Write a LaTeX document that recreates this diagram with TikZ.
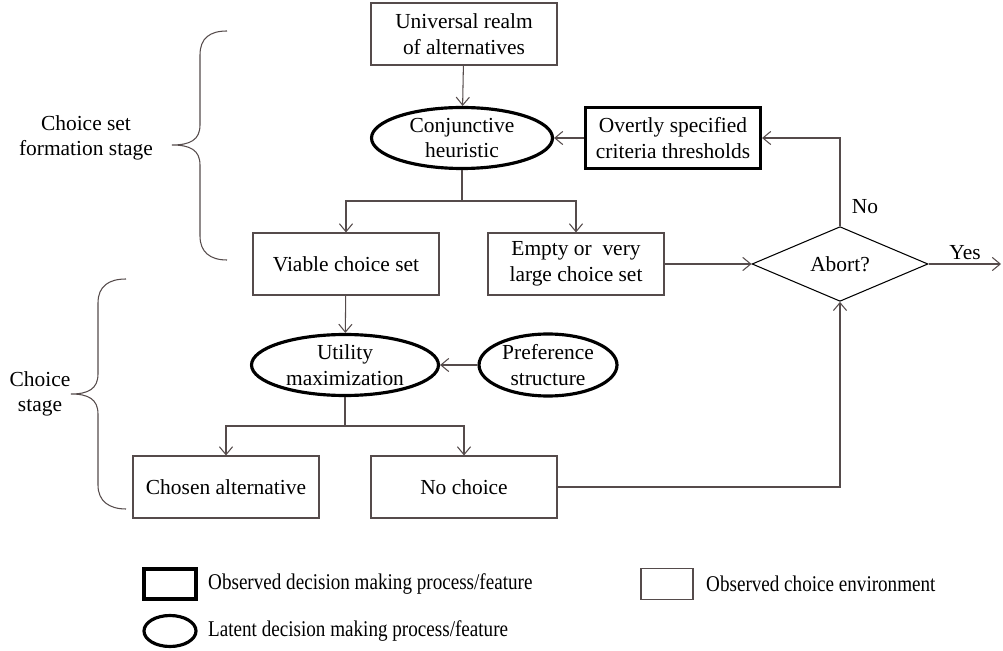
\documentclass[tikz,border=0pt]{standalone}
\usepackage{fontspec}
\setmainfont{Liberation Serif}
\newfontfamily\legendfont[FakeStretch=0.85]{Liberation Serif}
\usetikzlibrary{shapes.geometric,arrows.meta,positioning}
\definecolor{linegray}{RGB}{85,75,75}

\begin{document}
\begin{tikzpicture}[x=0.02cm,y=-0.02cm,
    font=\fontsize{12.2}{14.5}\selectfont,
    envbox/.style={draw=linegray,line width=0.6pt,minimum width=3.72cm,minimum height=1.24cm,align=center,inner sep=2pt},
    obsbox/.style={draw=black,line width=1.8pt,minimum width=3.5cm,minimum height=1.22cm,align=center,inner sep=2pt},
    latent/.style={ellipse,draw=black,line width=1.8pt,align=center,inner sep=0pt},
    keytext/.style={anchor=west,font=\fontsize{12.8}{14}\legendfont},
    link/.style={draw=linegray,line width=0.6pt},
    arr/.style={link,-{Straight Barb[length=4.5pt,width=7.5pt]}}]
  \useasboundingbox (0,0) rectangle (1003,651);

  % choice set formation
  \node[envbox] (univ) at (464,34) {Universal realm\\of alternatives};
  \node[latent,minimum width=3.62cm,minimum height=1.22cm] (conj) at (462,138) {Conjunctive\\heuristic};
  \node[obsbox] (over) at (673,138) {Overtly specified\\criteria thresholds};
  \node[envbox] (viable) at (346,264) {Viable choice set};
  \node[envbox,minimum width=3.52cm] (empty) at (576,264) {Empty or~ very\\large choice set};
  \node[diamond,draw=black,line width=0.6pt,minimum width=3.52cm,minimum height=1.22cm,inner sep=0pt] (abort) at (840,264) {Abort?};
  \coordinate (yesend) at (1001,264);
  \coordinate (fork1) at (462,201);

  % choice stage
  \node[latent,minimum width=3.74cm,minimum height=1.22cm] (util) at (345,365) {Utility\\maximization};
  \node[latent,minimum width=2.76cm,minimum height=1.24cm] (pref) at (548,365) {Preference\\structure};
  \node[envbox] (chosen) at (226,487) {Chosen alternative};
  \node[envbox] (nochoice) at (464,487) {No choice};
  \coordinate (fork2) at (345,426);

  % connectors
  \draw[arr] (univ) -- (conj);
  \draw[link] (conj.south) -- (fork1);
  \draw[arr] (fork1) -| (viable.north);
  \draw[arr] (fork1) -| (empty.north);
  \draw[arr] (over) -- (conj);
  \draw[arr] (empty) -- (abort);
  \draw[arr] (abort.north) |- (over.east);
  \draw[arr] (abort.east) -- (yesend);
  \node (nolbl) at (865,207) {No};
  \node (yeslbl) at (965,253) {Yes};
  \draw[arr] (viable) -- (util);
  \draw[arr] (pref) -- (util);
  \draw[link] (util.south) -- (fork2);
  \draw[arr] (fork2) -| (chosen.north);
  \draw[arr] (fork2) -| (nochoice.north);
  \draw[arr] (nochoice.east) -| (abort.south);

  % braces
  \draw[link] (227,31) .. controls (210,31) and (200,38) .. (200,55) -- (200,125)
    .. controls (200,140) and (190,145) .. (172,145) .. controls (190,145) and (200,150) .. (200,165)
    -- (200,236) .. controls (200,252) and (210,260) .. (227,260);
  \node[align=center] (setlbl) at (86,138) {Choice set\\formation stage};
  \draw[link] (126,279) .. controls (109,279) and (98,286) .. (98,303) -- (98,374)
    .. controls (98,389) and (88,394) .. (71,394) .. controls (88,394) and (98,399) .. (98,414)
    -- (98,485) .. controls (98,501) and (109,509) .. (126,509);
  \node[align=center] (choicelbl) at (40,394) {Choice\\stage};

  % legend
  \node[draw=black,line width=1.8pt,minimum width=1.04cm,minimum height=0.6cm] (keyobs) at (170,584) {};
  \node[keytext] (keyobstxt) at (202,584) {Observed decision making process/feature};
  \node[draw=linegray,line width=0.6pt,minimum width=1.04cm,minimum height=0.62cm] (keyenv) at (667,584) {};
  \node[keytext] (keyenvtxt) at (700,584) {Observed choice environment};
  \node[ellipse,draw=black,line width=1.8pt,minimum width=1.04cm,minimum height=0.62cm,inner sep=0pt] (keylat) at (170,631) {};
  \node[keytext] (keylattxt) at (202,631) {Latent decision making process/feature};
\end{tikzpicture}
\end{document}
